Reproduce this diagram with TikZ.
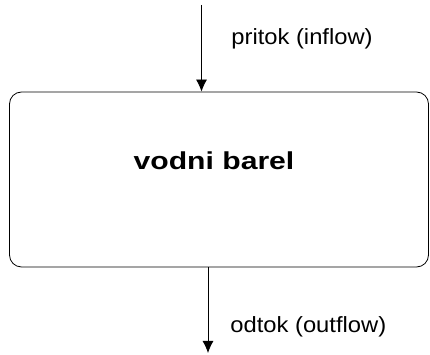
\documentclass[tikz,border=0pt]{standalone}
\usepackage{fontspec}
\setmainfont{Liberation Sans}
\newfontfamily\labelfont{Liberation Sans}[FakeStretch=1.08]
\newfontfamily\titlefont{Liberation Sans}[FakeStretch=1.23]
\usetikzlibrary{arrows.meta}
\begin{document}
\begin{tikzpicture}[x=1pt,y=1pt,>={Latex[length=12pt,width=11pt]}, line width=0.8pt, line join=round,
	barrel/.style={draw, rounded corners=12pt, minimum width=419pt, minimum height=175pt},
	flowlabel/.style={inner sep=0pt, font=\labelfont\fontsize{22}{26}\selectfont}]
		\def\w{430} \def\h{355}
		\useasboundingbox (0,0) rectangle (\w,\h);
		%\draw[color=gray!50,dashed] (0,0) grid[step=50] (\w,\h);
		\node[barrel] (barel) at (219,175.5) {};
		\node[anchor=base, inner sep=0pt, font=\titlefont\bfseries\fontsize{24.5}{28}\selectfont] (nazev) at (214,185.7) {vodni barel};
		\coordinate (in) at (201.5,350);
		\coordinate (out) at (208,2);
		\draw[->] (in)--(in |- barel.north);
		\draw[->] (out |- barel.south)--(out);
		\node[flowlabel, anchor=base west] (pritok) at (231,310) {pritok (inflow)};
		\node[flowlabel, anchor=base west] (odtok) at (230,22) {odtok (outflow)};
	\end{tikzpicture}
\end{document}
